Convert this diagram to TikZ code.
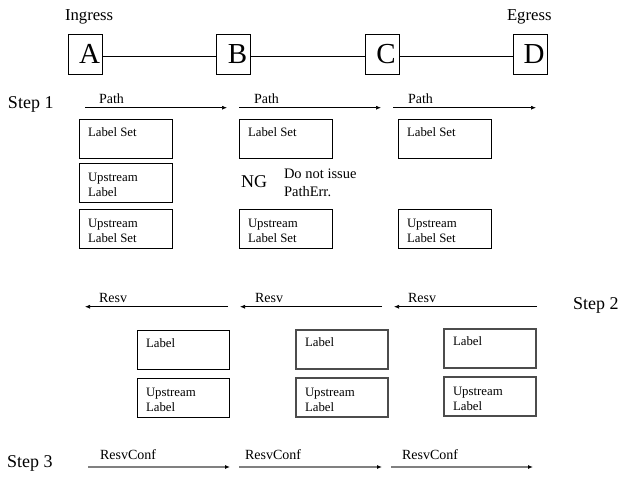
\documentclass[tikz,border=0pt]{standalone}
\usepackage{fontspec}
\setmainfont{Liberation Serif}
\usetikzlibrary{arrows.meta}
\newcommand{\twolines}[2]{\begin{tabular}[t]{@{}l@{}}#1\\#2\end{tabular}}
\tikzset{
  every node/.style={inner sep=0pt, outer sep=0pt},
  hopbox/.style={draw, line width=0.8pt, minimum width=34pt, minimum height=40pt,
    font=\fontsize{29}{30}\selectfont},
  link/.style={line width=0.7pt},
  infobox/.style={draw, line width=0.8pt, minimum width=93pt, minimum height=39pt, anchor=north west},
  infobox2/.style={infobox, minimum width=92pt},
  greybox/.style={infobox2, draw=black!70, line width=1.1pt},
  infotext/.style={anchor=base west, font=\fontsize{12.8}{15.5}\selectfont},
  msgtext/.style={anchor=base west, font=\fontsize{14}{16}\selectfont},
  steptext/.style={anchor=base west, font=\fontsize{18}{20}\selectfont},
  endtext/.style={anchor=base west, font=\fontsize{16.7}{18}\selectfont},
  msgarrow/.style={line width=0.7pt, -{Latex[length=5pt,width=4pt]}},
  confarrow/.style={line width=1.1pt, draw=black!50, -{Latex[length=5pt,width=4pt,fill=black,color=black]}},
}
\begin{document}
\begin{tikzpicture}[x=1pt,y=-1pt]
\useasboundingbox (0,0) rectangle (620,477);

% top: hops
\node[endtext] (ingress) at (65,20) {Ingress};
\node[endtext] (egress) at (507,20) {Egress};
\node[hopbox] (A) at (85.5,54) {\hspace*{8pt}A};
\node[hopbox] (B) at (233.5,54) {\hspace*{8pt}B};
\node[hopbox] (C) at (382,54) {\hspace*{8pt}C};
\node[hopbox] (D) at (530,54) {\hspace*{8pt}D};
\draw[link] ([yshift=-2pt]A.east) -- ([yshift=-2pt]B.west);
\draw[link] ([yshift=-2pt]B.east) -- ([yshift=-2pt]C.west);
\draw[link] ([yshift=-2pt]C.east) -- ([yshift=-2pt]D.west);

% Step 1
\node[steptext] (step1) at (8,108) {Step 1};
\coordinate (p1s) at (85,107.7);  \coordinate (p1e) at (227,107.7);
\coordinate (p2s) at (239,107.7); \coordinate (p2e) at (381,107.7);
\coordinate (p3s) at (393,107.7); \coordinate (p3e) at (536,107.7);
\draw[msgarrow] (p1s) -- (p1e);
\draw[msgarrow] (p2s) -- (p2e);
\draw[msgarrow] (p3s) -- (p3e);
\node[msgtext] (path1) at (99,103.5) {Path};
\node[msgtext] (path2) at (254,103.5) {Path};
\node[msgtext] (path3) at (408,103.5) {Path};

\node[infobox] (ls1) at (79,119) {};
\node[infobox] (ls2) at (239,119) {};
\node[infobox] (ls3) at (398,119) {};
\node[infotext] (ls1t) at ([shift={(9,17)}]ls1.north west) {Label Set};
\node[infotext] (ls2t) at ([shift={(9,17)}]ls2.north west) {Label Set};
\node[infotext] (ls3t) at ([shift={(9,17)}]ls3.north west) {Label Set};

\node[infobox] (ul1) at (79,163) {};
\node[infotext] (ul1t) at ([shift={(9,18)}]ul1.north west) {\twolines{Upstream}{Label}};

\node[anchor=base west, font=\fontsize{18}{20}\selectfont] (ng) at (241,187) {NG};
\node[anchor=base west, font=\fontsize{14.5}{18}\selectfont] (noerr) at (284,178.5)
  {\twolines{Do not issue}{PathErr.}};

\node[infobox] (uls1) at (79,209) {};
\node[infobox] (uls2) at (239,209) {};
\node[infobox] (uls3) at (398,209) {};
\node[infotext] (uls1t) at ([shift={(9,18)}]uls1.north west) {\twolines{Upstream}{Label Set}};
\node[infotext] (uls2t) at ([shift={(9,18)}]uls2.north west) {\twolines{Upstream}{Label Set}};
\node[infotext] (uls3t) at ([shift={(9,18)}]uls3.north west) {\twolines{Upstream}{Label Set}};

% Step 2
\node[steptext] (step2) at (573,309.5) {Step 2};
\coordinate (r1s) at (228,306.7); \coordinate (r1e) at (85,306.7);
\coordinate (r2s) at (382,306.7); \coordinate (r2e) at (240,306.7);
\coordinate (r3s) at (537,306.7); \coordinate (r3e) at (394,306.7);
\draw[msgarrow] (r1s) -- (r1e);
\draw[msgarrow] (r2s) -- (r2e);
\draw[msgarrow] (r3s) -- (r3e);
\node[msgtext] (resv1) at (99,302.7) {Resv};
\node[msgtext] (resv2) at (255,302.7) {Resv};
\node[msgtext] (resv3) at (408,302.7) {Resv};

\node[infobox2] (lb1) at (137,330.5) {};
\node[greybox] (lb2) at (296,330) {};
\node[greybox] (lb3) at (444,329) {};
\node[infotext] (lb1t) at ([shift={(9,16.5)}]lb1.north west) {Label};
\node[infotext] (lb2t) at ([shift={(9,16.5)}]lb2.north west) {Label};
\node[infotext] (lb3t) at ([shift={(9,16.5)}]lb3.north west) {Label};

\node[infobox2] (ub1) at (137,378) {};
\node[greybox] (ub2) at (296,378) {};
\node[greybox] (ub3) at (444,377) {};
\node[infotext] (ub1t) at ([shift={(9,18)}]ub1.north west) {\twolines{Upstream}{Label}};
\node[infotext] (ub2t) at ([shift={(9,18)}]ub2.north west) {\twolines{Upstream}{Label}};
\node[infotext] (ub3t) at ([shift={(9,18)}]ub3.north west) {\twolines{Upstream}{Label}};

% Step 3
\node[steptext] (step3) at (7,467) {Step 3};
\coordinate (c1s) at (88,467);  \coordinate (c1e) at (230,467);
\coordinate (c2s) at (239,467); \coordinate (c2e) at (382,467);
\coordinate (c3s) at (391,467); \coordinate (c3e) at (533,467);
\draw[confarrow] (c1s) -- (c1e);
\draw[confarrow] (c2s) -- (c2e);
\draw[confarrow] (c3s) -- (c3e);
\node[msgtext] (conf1) at (100,459.3) {ResvConf};
\node[msgtext] (conf2) at (245,459.3) {ResvConf};
\node[msgtext] (conf3) at (402,459.3) {ResvConf};
\end{tikzpicture}
\end{document}
